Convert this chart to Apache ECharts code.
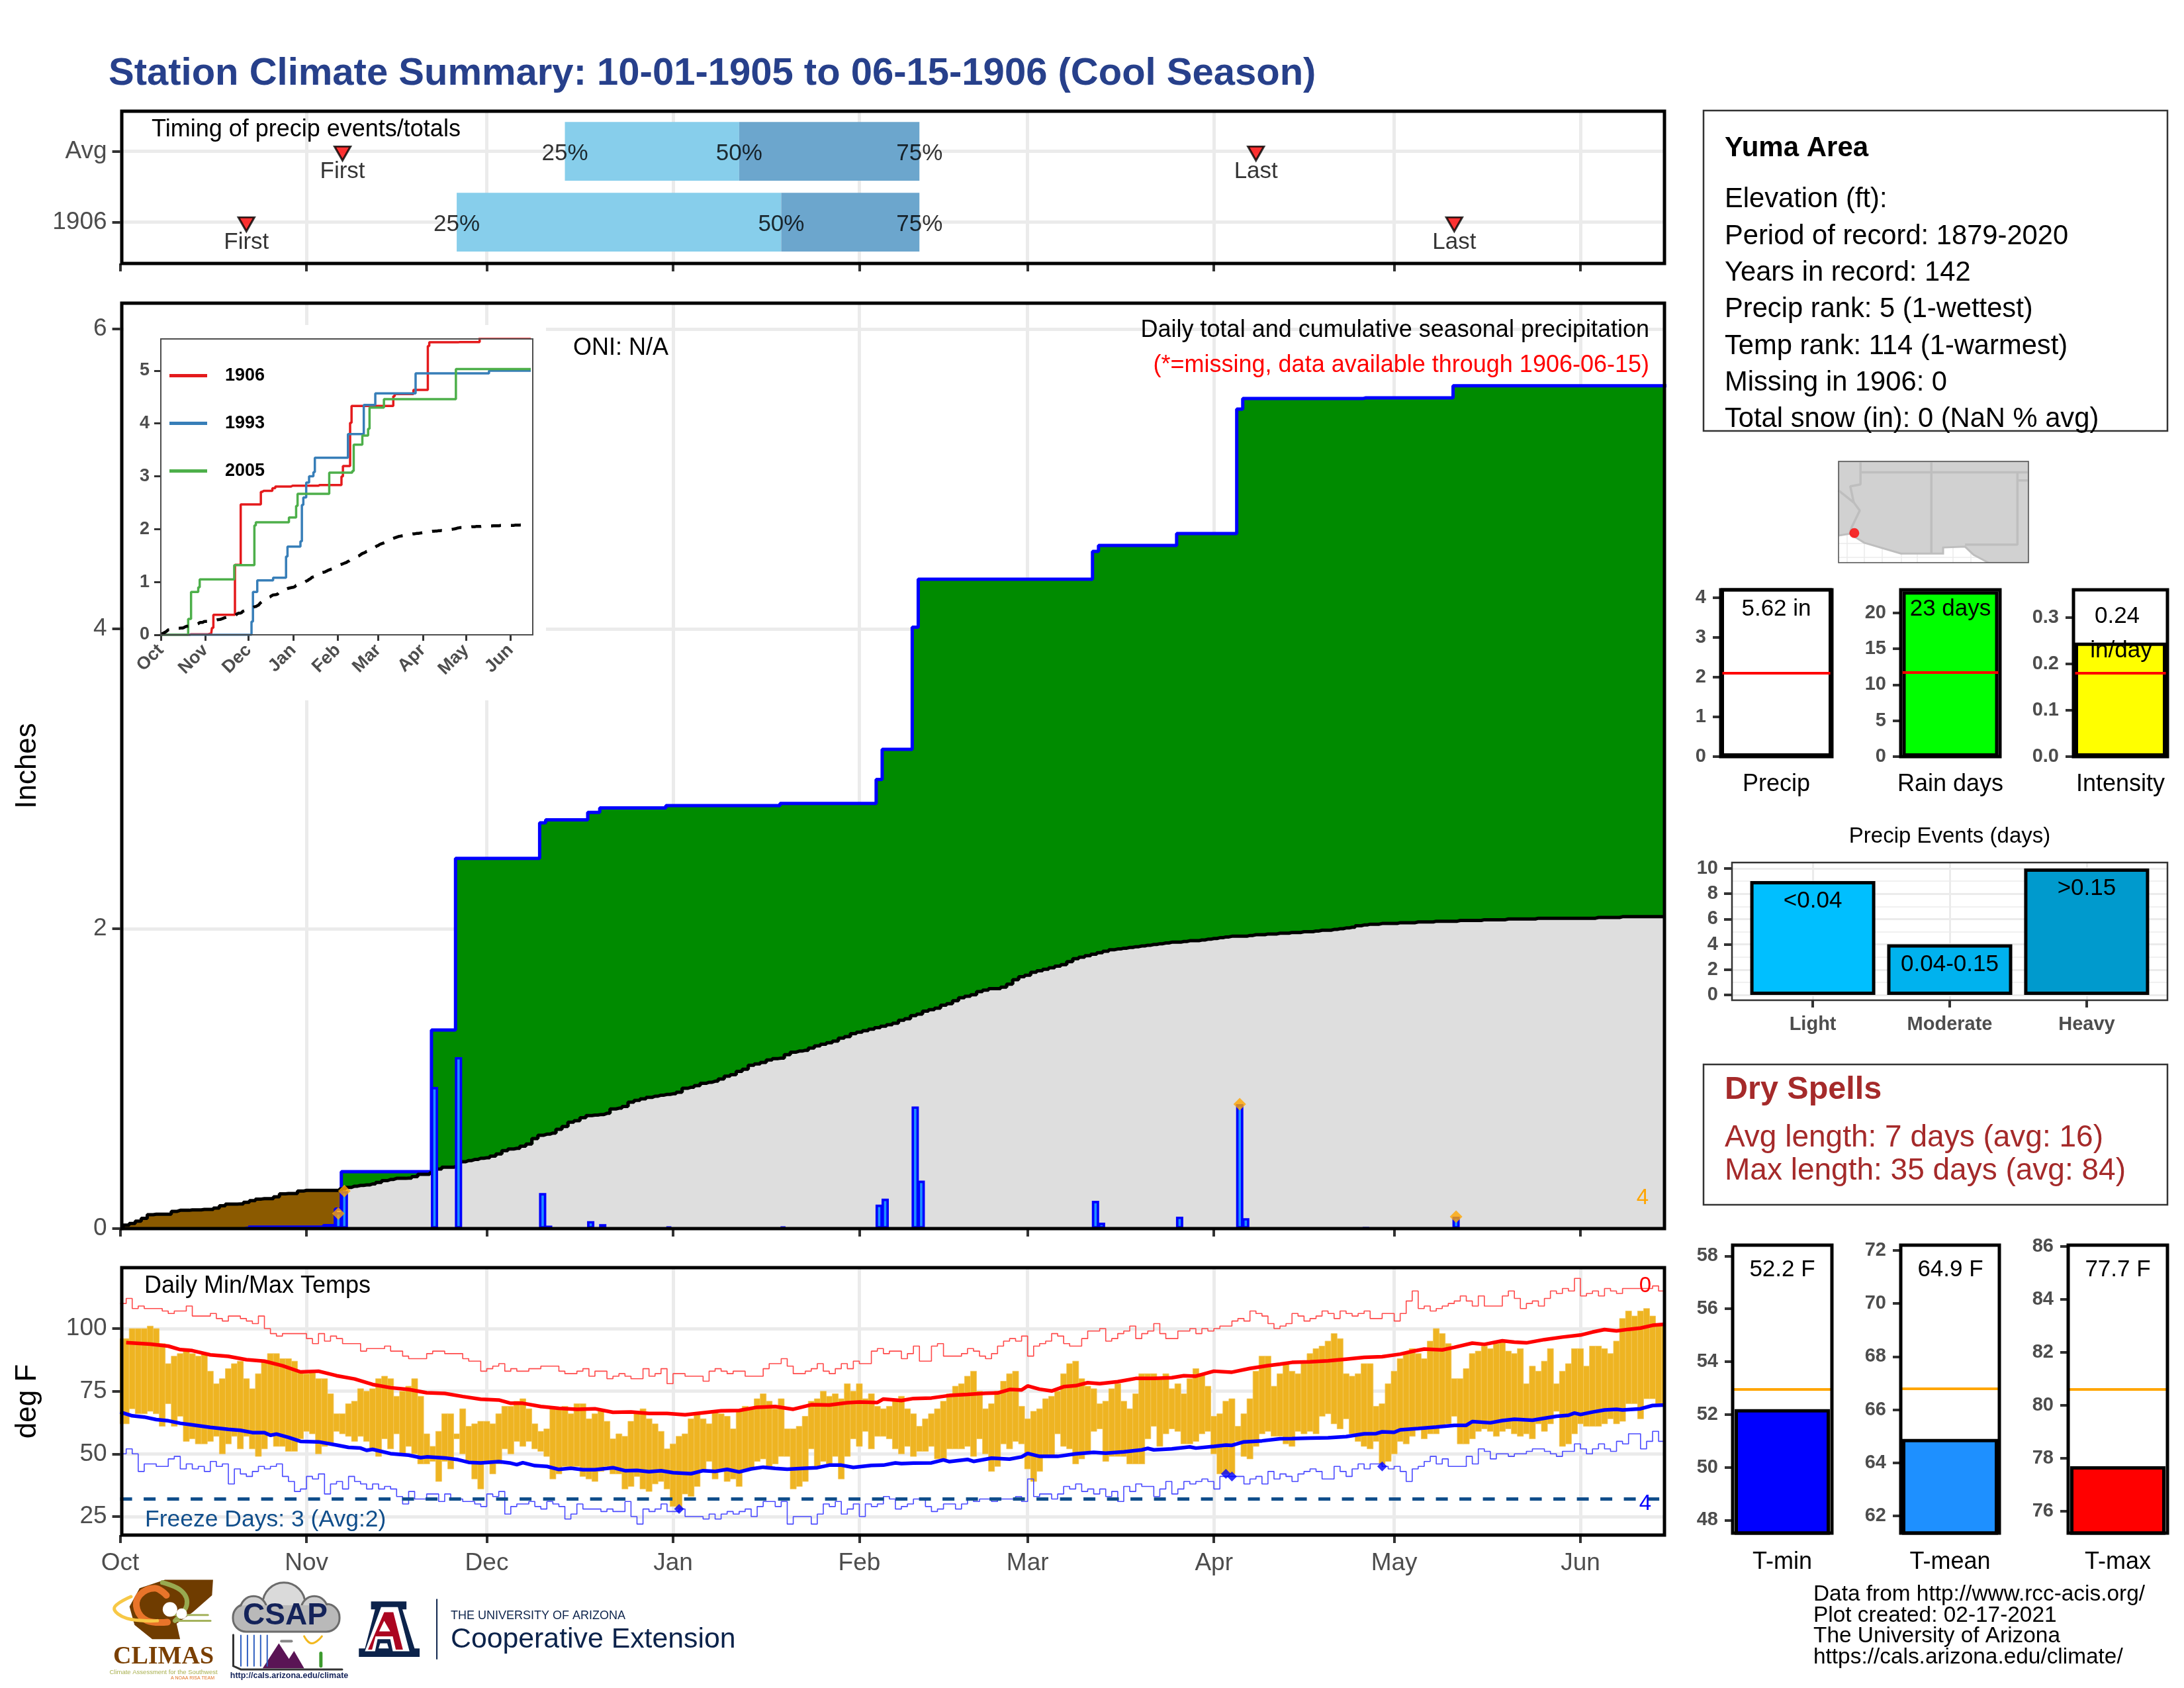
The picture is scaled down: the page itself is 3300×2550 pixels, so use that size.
<!DOCTYPE html>
<html>
<head>
<meta charset="utf-8">
<title>Station Climate Summary</title>
<script src="https://cdn.jsdelivr.net/npm/echarts@6/dist/echarts.min.js"></script>
<style>
html, body { margin: 0; padding: 0; background: #fff; }
#chart { width: 3300px; height: 2550px; }
</style>
</head>
<body>
<div id="chart"></div>
<script>
// season axis: day 0 = Oct 1, day 257 = Jun 15
var monthDays = [0, 31, 61, 92, 123, 151, 182, 212, 243];
var monthNames = ['Oct', 'Nov', 'Dec', 'Jan', 'Feb', 'Mar', 'Apr', 'May', 'Jun'];

// timing panel
var timingRows = ['Avg', '1906'];
var timingPct = [[74, 103, 133], [56, 110, 133]];
var pctLabels = ['25%', '50%', '75%'];
var firstDays = [37, 21];
var lastDays = [189, 222];

// daily precip events (inches)
var precipDays = [21, 34, 36, 37, 52, 56, 70, 71, 78, 80, 91, 110, 126, 127, 132, 133, 162, 163, 176, 186, 187, 207, 222];
var precipVals = [.01, .01, .11, .25, .945, 1.144, .237, .02, .05, .03, .015, .015, .16, .20, .815, .32, .185, .04, .08, .83, .07, .005, .08];
var wetFlagDays = [36, 37, 186, 222];
var wetFlagVals = [.10, .25, .83, .08];

// average cumulative precip by day
var avgCum = [
  0, .023, .034, .05, .068, .093, .096, .096, .096, .115,
  .122, .122, .125, .125, .128, .128, .137, .152, .163, .163,
  .165, .175, .186, .197, .20, .20, .212, .232, .234, .234,
  .25, .255, .255, .255, .255, .255, .255, .265, .275, .283,
  .288, .291, .298, .308, .32, .328, .335, .335, .337, .347,
  .362, .362, .372, .397, .409, .409, .417, .446, .454, .461,
  .469, .472, .483, .498, .52, .531, .535, .55, .564, .60,
  .623, .63, .637, .662, .681, .71, .72, .74, .754, .757,
  .761, .769, .798, .803, .814, .843, .855, .865, .875, .883,
  .89, .895, .899, .91, .936, .943, .954, .969, .976, .983,
  .998, 1.016, 1.027, 1.049, 1.063, 1.089, 1.098, 1.108, 1.125, 1.134,
  1.137, 1.16, 1.177, 1.184, 1.189, 1.204, 1.218, 1.23, 1.24, 1.25,
  1.27, 1.28, 1.30, 1.31, 1.32, 1.33, 1.34, 1.35, 1.36, 1.37,
  1.39, 1.40, 1.42, 1.43, 1.45, 1.46, 1.47, 1.49, 1.50, 1.52,
  1.54, 1.55, 1.56, 1.58, 1.59, 1.60, 1.60, 1.61, 1.63, 1.66,
  1.68, 1.69, 1.71, 1.72, 1.73, 1.74, 1.75, 1.76, 1.78, 1.80,
  1.81, 1.82, 1.83, 1.84, 1.85, 1.86, 1.865, 1.87, 1.875, 1.88,
  1.885, 1.89, 1.895, 1.90, 1.905, 1.91, 1.91, 1.915, 1.92, 1.92,
  1.925, 1.93, 1.935, 1.94, 1.945, 1.95, 1.95, 1.95, 1.955, 1.96,
  1.96, 1.965, 1.965, 1.97, 1.97, 1.975, 1.975, 1.98, 1.98, 1.985,
  1.99, 1.99, 1.995, 2.0, 2.005, 2.01, 2.02, 2.025, 2.03, 2.03,
  2.035, 2.035, 2.035, 2.04, 2.04, 2.04, 2.045, 2.045, 2.045, 2.05,
  2.05, 2.05, 2.05, 2.055, 2.055, 2.055, 2.055, 2.06, 2.06, 2.06,
  2.06, 2.065, 2.065, 2.065, 2.065, 2.065, 2.07, 2.07, 2.07, 2.07,
  2.07, 2.07, 2.07, 2.07, 2.07, 2.07, 2.075, 2.075, 2.075, 2.075,
  2.08, 2.08, 2.08, 2.08, 2.08, 2.08, 2.08, 2.08
];

// inset: other years, season totals at the days they change
var y1993Days = [0, 63, 64, 67, 78, 87, 88, 97, 98, 99, 101, 103, 106, 107, 130, 141, 149, 177, 228, 257];
var y1993Vals = [0, .25, .81, 1.03, 1.08, 1.48, 1.67, 1.77, 2.46, 2.6, 2.88, 3.0, 3.08, 3.35, 3.8, 4.35, 4.57, 4.95, 5.0, 5.0];
var y2005Days = [0, 19, 21, 26, 27, 51, 65, 66, 89, 94, 95, 117, 133, 134, 140, 144, 145, 155, 205, 257];
var y2005Vals = [0, .3, .81, .9, 1.05, 1.32, 2.07, 2.13, 2.22, 2.44, 2.67, 3.07, 3.1, 3.6, 3.77, 3.9, 4.3, 4.46, 5.03, 5.03];

// daily temps (deg F)
var tMax = [
  96, 96, 100, 100, 100, 101, 100, 94, 86, 89,
  90, 92, 90, 89, 90, 83, 78, 80, 84, 86,
  87, 80, 76, 82, 87, 90, 90, 88, 88, 87,
  83, 82, 83, 80, 80, 74, 66, 66, 70, 71,
  76, 75, 76, 80, 81, 80, 73, 75, 77, 80,
  73, 58, 53, 59, 66, 66, 58, 68, 61, 62,
  63, 63, 62, 66, 69, 69, 71, 72, 68, 62,
  59, 60, 68, 68, 69, 66, 70, 70, 64, 66,
  67, 63, 56, 58, 57, 63, 66, 68, 64, 62,
  59, 52, 54, 57, 58, 64, 66, 64, 62, 67,
  66, 65, 60, 67, 69, 68, 72, 74, 71, 68,
  72, 60, 60, 61, 65, 71, 72, 75, 73, 74,
  72, 78, 75, 78, 72, 74, 69, 68, 69, 71,
  73, 68, 66, 61, 64, 66, 68, 71, 74, 77,
  78, 81, 83, 75, 68, 70, 75, 79, 82, 83,
  69, 64, 67, 68, 72, 73, 75, 82, 86, 87,
  80, 77, 76, 70, 71, 76, 78, 71, 68, 74,
  82, 82, 82, 80, 82, 76, 78, 74, 80, 84,
  82, 77, 65, 66, 71, 72, 61, 66, 72, 83,
  89, 89, 77, 82, 86, 83, 82, 86, 90, 92,
  93, 95, 98, 96, 82, 81, 82, 86, 86, 69,
  70, 78, 83, 88, 90, 92, 90, 88, 95, 100,
  98, 94, 80, 80, 84, 90, 91, 93, 92, 94,
  95, 91, 90, 92, 78, 85, 83, 87, 92, 78,
  83, 86, 92, 92, 85, 93, 93, 92, 90, 95,
  104, 107, 105, 107, 108, 105, 102, 102
];
var tMin = [
  62, 62, 68, 66, 66, 67, 66, 61, 70, 61,
  65, 55, 56, 54, 54, 55, 57, 50, 54, 57,
  52, 57, 52, 49, 52, 58, 53, 53, 51, 51,
  56, 59, 58, 50, 53, 54, 59, 58, 57, 55,
  57, 55, 52, 49, 56, 52, 58, 50, 53, 50,
  46, 46, 47, 39, 47, 44, 56, 50, 47, 40,
  36, 46, 42, 46, 52, 50, 55, 53, 55, 52,
  51, 49, 40, 42, 45, 45, 45, 41, 40, 39,
  43, 45, 42, 42, 36, 37, 41, 36, 35, 38,
  39, 36, 29, 28, 34, 33, 37, 43, 47, 40,
  44, 39, 40, 37, 43, 44, 47, 48, 45, 46,
  49, 49, 36, 37, 39, 52, 45, 47, 46, 49,
  40, 49, 56, 53, 59, 52, 57, 57, 56, 52,
  50, 53, 49, 51, 51, 53, 48, 48, 52, 52,
  52, 53, 49, 56, 50, 43, 45, 54, 52, 55,
  54, 44, 39, 43, 49, 49, 58, 53, 52, 46,
  48, 51, 59, 60, 47, 49, 49, 49, 46, 46,
  46, 56, 61, 53, 58, 60, 59, 54, 54, 55,
  58, 59, 50, 42, 42, 42, 55, 49, 48, 53,
  58, 59, 57, 57, 54, 53, 59, 58, 59, 58,
  65, 66, 62, 60, 64, 58, 55, 53, 52, 55,
  46, 47, 50, 55, 54, 57, 60, 56, 58, 58,
  61, 62, 65, 54, 54, 56, 59, 60, 59, 57,
  59, 60, 58, 57, 58, 56, 62, 59, 62, 67,
  53, 54, 58, 62, 61, 61, 61, 62, 64, 62,
  63, 70, 70, 64, 72, 72, 70, 70
];
var recHigh = [
  110, 112, 108, 109, 108, 108, 108, 107, 106, 107,
  107, 109, 105, 105, 105, 106, 104, 103, 105, 105,
  104, 103, 102, 105, 100, 98, 97, 98, 98, 98,
  98, 96, 94, 98, 95, 97, 96, 94, 94, 94,
  91, 92, 92, 92, 93, 91, 91, 89, 88, 88,
  88, 90, 91, 91, 90, 90, 90, 88, 87, 87,
  83, 84, 85, 86, 83, 84, 83, 83, 84, 84,
  85, 85, 85, 83, 82, 82, 83, 84, 81, 83,
  83, 80, 81, 82, 81, 80, 80, 84, 81, 82,
  84, 78, 82, 82, 81, 81, 81, 79, 83, 84,
  83, 82, 83, 83, 81, 81, 81, 84, 86, 86,
  88, 85, 82, 82, 83, 84, 86, 83, 82, 84,
  86, 84, 87, 86, 86, 91, 92, 90, 91, 91,
  88, 90, 93, 87, 87, 93, 94, 89, 89, 89,
  90, 92, 91, 89, 88, 90, 93, 95, 96, 95,
  97, 89, 93, 94, 95, 98, 97, 94, 93, 93,
  96, 99, 99, 100, 95, 96, 98, 99, 101, 96,
  98, 99, 102, 98, 96, 96, 99, 99, 100, 98,
  100, 99, 100, 101, 101, 103, 104, 103, 107, 106,
  105, 102, 100, 101, 102, 106, 105, 103, 104, 105,
  107, 106, 104, 107, 106, 105, 106, 107, 104, 104,
  106, 106, 103, 106, 111, 115, 108, 109, 107, 108,
  109, 110, 111, 113, 111, 109, 113, 109, 109, 109,
  113, 115, 112, 108, 110, 111, 109, 112, 115, 114,
  116, 115, 120, 113, 114, 115, 113, 116, 115, 114,
  116, 116, 116, 116, 116, 117, 115, 115
];
var recLow = [
  50, 52, 50, 43, 46, 46, 45, 45, 48, 49,
  44, 46, 44, 45, 43, 47, 45, 46, 38, 44,
  42, 41, 43, 45, 44, 45, 46, 41, 39, 35,
  36, 41, 40, 42, 34, 38, 39, 36, 41, 39,
  38, 36, 38, 36, 37, 36, 33, 30, 35, 32,
  32, 34, 34, 31, 34, 32, 32, 31, 31, 30,
  29, 34, 33, 35, 26, 29, 30, 30, 31, 29,
  28, 31, 30, 29, 24, 26, 30, 28, 28, 28,
  27, 28, 27, 27, 31, 25, 22, 28, 27, 28,
  30, 27, 27, 28, 25, 25, 25, 24, 26, 24,
  26, 27, 26, 27, 28, 25, 29, 31, 31, 29,
  31, 22, 25, 25, 25, 22, 26, 30, 29, 31,
  26, 28, 30, 25, 30, 29, 30, 33, 32, 28,
  29, 30, 32, 32, 29, 27, 28, 30, 30, 28,
  30, 32, 31, 32, 32, 31, 32, 32, 32, 33,
  31, 40, 33, 34, 34, 32, 34, 37, 36, 38,
  35, 36, 34, 36, 33, 35, 31, 37, 35, 38,
  37, 37, 33, 36, 39, 34, 36, 39, 38, 39,
  40, 39, 36, 41, 41, 41, 41, 38, 40, 41,
  38, 43, 40, 42, 41, 39, 42, 43, 44, 43,
  40, 40, 45, 43, 41, 44, 46, 44, 46, 46,
  45, 44, 45, 43, 39, 44, 45, 47, 49, 46,
  48, 45, 45, 45, 49, 46, 52, 51, 48, 50,
  50, 49, 50, 50, 51, 52, 52, 51, 50, 49,
  51, 51, 54, 52, 50, 52, 54, 52, 51, 55,
  54, 58, 58, 52, 55, 59, 55, 55
];
var avgHighDays = [1, 5, 8, 10, 12, 15, 18, 21, 24, 27, 30, 33, 36, 39, 42, 45, 48, 51, 54, 57, 60, 63, 65, 67, 70, 73, 76, 79, 82, 85, 88, 91, 94, 97, 100, 103, 106, 109, 112, 115, 118, 121, 123, 126, 127, 130, 132, 135, 138, 141, 144, 146, 148, 150, 151, 153, 155, 157, 159, 161, 163, 166, 169, 172, 175, 177, 179, 182, 185, 188, 191, 193, 195, 198, 201, 204, 207, 210, 213, 215, 217, 220, 222, 225, 227, 230, 232, 234, 237, 240, 243, 245, 247, 249, 251, 253, 255, 257];
var avgHighVals = [94.4, 93.8, 93, 91.6, 91.2, 89.5, 88.9, 87.6, 87, 85.2, 82.7, 83, 81.2, 79.9, 77.7, 76.4, 75.7, 74.4, 74.1, 72.9, 71.8, 71.5, 70.2, 70.2, 68.9, 68.2, 67.8, 68, 66.6, 66.7, 66.1, 66.1, 65.6, 66.4, 67.2, 67.3, 68.6, 68.9, 67.8, 69.6, 69.5, 70.4, 70.7, 70.5, 71.9, 71.3, 72.1, 72.3, 73.3, 73.7, 74.2, 74.3, 75.7, 75.5, 77.1, 75.8, 75.1, 76.8, 77.2, 78.4, 78, 78.8, 80.1, 80.1, 80.4, 81.2, 81, 83, 82.6, 84.1, 85.2, 85.8, 86.5, 86.7, 87.1, 87.8, 88.5, 88.8, 89.8, 90.9, 91.8, 91.5, 92.5, 94.2, 93.7, 95.1, 94.6, 94.3, 95.6, 96.6, 97.4, 98.6, 99.6, 99.1, 99.7, 100.2, 101.3, 101.7];
var avgLowDays = [0, 2, 4, 6, 8, 10, 12, 15, 18, 20, 22, 24, 25, 26, 28, 30, 33, 36, 38, 40, 41, 42, 45, 48, 50, 51, 54, 56, 58, 60, 63, 65, 66, 67, 69, 71, 73, 75, 77, 79, 81, 82, 84, 86, 88, 90, 92, 95, 97, 99, 101, 103, 105, 107, 109, 111, 114, 116, 118, 120, 122, 125, 127, 129, 130, 132, 135, 137, 138, 141, 142, 145, 148, 150, 151, 153, 156, 159, 162, 164, 167, 170, 171, 172, 175, 178, 179, 182, 184, 185, 187, 190, 193, 195, 198, 201, 204, 207, 209, 210, 212, 213, 216, 219, 222, 224, 225, 228, 230, 232, 235, 237, 239, 241, 242, 243, 245, 247, 249, 250, 253, 255, 257];
var avgLowVals = [66.7, 65.2, 64.7, 63.7, 63.2, 62.2, 61.6, 60.6, 59.8, 59.4, 58.5, 58.5, 57.4, 57.9, 56.6, 55, 54.8, 53.5, 52.6, 52.3, 51.4, 51.8, 50.1, 49.5, 48.5, 48.8, 48.4, 47.8, 46.6, 46.4, 46.9, 46.3, 45.7, 46.5, 45.3, 45, 43.8, 44.3, 43.7, 43.7, 44.2, 44.5, 43.3, 43.4, 42.9, 43.3, 42.5, 42.1, 43.3, 43, 43.8, 42.8, 44, 44.7, 44.2, 43.9, 44.3, 44.5, 45.5, 45.5, 44.6, 45.4, 45.5, 46.4, 46.1, 46.3, 46.4, 47.6, 46.9, 47.8, 47, 48.3, 47.9, 48.8, 50.2, 49, 49, 50, 50.6, 50.3, 50.8, 51.6, 52.2, 51.6, 52, 52.8, 52.3, 53, 53.5, 53.4, 54.8, 55.2, 56, 56.1, 56.3, 56.4, 56.9, 58, 58.1, 58.8, 58.6, 59.6, 60.1, 60.7, 61.4, 61.4, 62.9, 62.4, 63.3, 63.8, 63.4, 64.2, 65, 65.4, 66.3, 65.7, 66.7, 67.5, 67.8, 67.5, 68, 69.3, 69.5];
var recLowFlagDays = [93, 184, 185, 210];
var recLowFlagVals = [28, 42, 41, 45];
var freezeLine = 32;

// right column bars
var precipTotal = 5.62, precipAvg = 2.11;
var rainDays = 23, rainDaysAvg = 11.7;
var intensity = 0.246, intensityAvg = 0.18;
var eventCats = ['Light', 'Moderate', 'Heavy'];
var eventCounts = [9, 4, 10];
var eventBins = ['<0.04', '0.04-0.15', '>0.15'];
var eventColors = ['#00BFFF', '#00B2EE', '#009ACD'];
var tempBars = [
  {name: 'T-min', val: 52.2, avg: 52.96, fill: '#0000FF'},
  {name: 'T-mean', val: 64.9, avg: 66.8, fill: '#1E90FF'},
  {name: 'T-max', val: 77.7, avg: 80.6, fill: '#FF0000'}
];

// locator map, lon/lat
var mapLandLon = [-115.5, -114.72, -113.71, -111.15, -109.03, -108.21, -108.21, -106.68, -106.09, -105.03, -102.25, -102.25, -115.5];
var mapLandLat = [32.55, 32.67, 32.04, 31.27, 31.27, 31.27, 31.7, 31.76, 31.19, 30.62, 30.62, 37.78, 37.78];
var mapBorders = [
  [[-115.5, 35.73], [-114.44, 34.88], [-114.02, 34.31], [-114.56, 33.18], [-114.72, 32.67]],
  [[-113.97, 37.78], [-113.97, 36.16], [-114.68, 36.02], [-114.44, 34.88]],
  [[-113.97, 37.01], [-102.25, 37.01]],
  [[-109.03, 37.78], [-109.03, 31.27]],
  [[-103.03, 37.01], [-103.03, 31.9], [-106.68, 31.9]],
  [[-103.03, 36.44], [-102.25, 36.44]]
];
var stationLon = -114.4, stationLat = 32.72;

// running season total from the daily events
// the original's rain marks sit a little right of the day tick
var rainShift = 0.3;
var dailyPrecip = [], cumPrecip = [], total = 0;
avgCum.forEach(function (v, d) {
  var k = precipDays.indexOf(d);
  if (k >= 0) total += precipVals[k];
  cumPrecip.push([d, +total.toFixed(3)]);
});
precipDays.forEach(function (d, k) { dailyPrecip.push([d + rainShift, precipVals[k]]); });
var avgPairs = avgCum.map(function (v, d) { return [d, v]; });
var lowerPairs = avgCum.map(function (v, d) { return [d + rainShift, Math.min(v, cumPrecip[d][1])]; });
var cumShifted = cumPrecip.map(function (p) { return [p[0] + rainShift, p[1]]; });
function pairs(xs, ys) { return xs.map(function (x, i) { return [x, ys[i]]; }); }

var FONT = '"Liberation Sans", Helvetica, Arial, sans-serif';
var GREY = '#4D4D4D', GRIDCOL = '#EBEBEB';

var grids = [], xAxes = [], yAxes = [], series = [], elements = [];

function addGrid(x0, y0, x1, y1) {
  grids.push({left: x0, top: y0, width: x1 - x0, height: y1 - y0, containLabel: false});
  return grids.length - 1;
}
function tickAxis(i, extra, labelOpt, tickOpt) {
  var ax = {
    gridIndex: i, type: 'value', scale: true, z: 3,
    splitLine: {show: false}, axisLine: {show: false, onZero: false},
    axisTick: Object.assign({show: true, length: 12, lineStyle: {color: '#333', width: 4}}, tickOpt || {}),
    axisLabel: Object.assign({show: true, color: GREY, fontFamily: FONT, fontSize: 37, margin: 20}, labelOpt || {})
  };
  return Object.assign(ax, extra);
}
function gridLines(i, xs, ys, width, color, z) {
  series.push({
    type: 'line', xAxisIndex: i, yAxisIndex: i, data: [], silent: true,
    markLine: {
      silent: true, symbol: 'none', z: z || 1, animation: false, label: {show: false},
      lineStyle: {color: color || GRIDCOL, width: width, type: 'solid'},
      data: xs.map(function (v) { return {xAxis: v}; }).concat(ys.map(function (v) { return {yAxis: v}; }))
    }
  });
}
function frame(x0, y0, x1, y1, color, width, z) {
  elements.push({type: 'rect', z: z || 50, silent: true, shape: {x: x0, y: y0, width: x1 - x0, height: y1 - y0},
    style: {fill: 'none', stroke: color, lineWidth: width}});
}
function txt(text, x, y, size, opt) {
  opt = opt || {};
  elements.push({type: 'text', z: opt.z || 60, silent: true, style: {
    text: text, x: x, y: y + 3, fill: opt.fill || '#000', fontFamily: opt.family || FONT, fontSize: size,
    fontWeight: opt.weight || 'normal', textAlign: opt.align || 'left', textVerticalAlign: 'middle'
  }});
}
function sideName(text, x, y, size) {
  elements.push({type: 'text', z: 60, silent: true, x: x, y: y, rotation: Math.PI / 2, style: {
    text: text, x: 0, y: 0, fill: '#000', fontFamily: FONT, fontSize: size, textAlign: 'center', textVerticalAlign: 'middle'
  }});
}
function monthTicks(i, showLabels) {
  return tickAxis(i, {min: 0, max: 256.98}, {
    show: showLabels, customValues: monthDays, margin: 24,
    formatter: function (v) { return monthNames[monthDays.indexOf(v)]; }
  }, {customValues: monthDays});
}
// left axis text sits a touch above its tick otherwise
var LEFT_PAD = [7, 0, 0, 0];

// ---- timing panel ----
var g0 = addGrid(181.6, 168, 2515, 398);
xAxes.push(monthTicks(g0, false));
yAxes.push(tickAxis(g0, {min: -0.566, max: 1.583, inverse: true}, {
  customValues: [0, 1], padding: LEFT_PAD, formatter: function (v) { return timingRows[v]; }
}, {customValues: [0, 1]}));
gridLines(g0, monthDays.slice(1), [0, 1], 5);
var timingRects = [];
timingPct.forEach(function (p, row) {
  timingRects.push([p[0], p[1], row, '#87CEEB']);
  timingRects.push([p[1], p[2], row, '#6CA6CD']);
});
series.push({
  type: 'custom', xAxisIndex: g0, yAxisIndex: g0, clip: true, silent: true, data: timingRects,
  renderItem: function (params, api) {
    var row = api.value(2);
    var a = api.coord([api.value(0), row - 0.415]);
    var b = api.coord([api.value(1), row + 0.415]);
    return {type: 'rect', shape: {x: a[0], y: a[1], width: b[0] - a[0], height: b[1] - a[1]},
      style: {fill: timingRects[params.dataIndex][3]}};
  }
});
var pctPoints = [];
timingPct.forEach(function (p, row) {
  p.forEach(function (d, k) { pctPoints.push({value: [d, row], label: {formatter: pctLabels[k]}}); });
});
series.push({
  type: 'scatter', xAxisIndex: g0, yAxisIndex: g0, symbolSize: 1, itemStyle: {color: 'transparent'}, silent: true, z: 4,
  label: {show: true, position: 'inside', offset: [0, 4], color: '#000', fontFamily: FONT, fontSize: 35},
  data: pctPoints
});
function timingMarks(days, text) {
  series.push({
    type: 'scatter', xAxisIndex: g0, yAxisIndex: g0, symbol: 'triangle', symbolRotate: 180, symbolSize: [24, 21], z: 5, silent: true,
    itemStyle: {color: '#FF0000', borderColor: '#000', borderWidth: 3},
    label: {show: true, position: 'bottom', distance: -2, formatter: text, color: '#000', fontFamily: FONT, fontSize: 35},
    data: days.map(function (d, row) { return [d, row + 0.03]; })
  });
}
timingMarks(firstDays, 'First');
timingMarks(lastDays, 'Last');
frame(184, 168, 2515, 398, '#000', 5);
txt('Timing of precip events/totals', 229, 193, 36);

// ---- main precip panel ----
var g1 = addGrid(181.6, 458, 2515, 1856);
xAxes.push(monthTicks(g1, false));
yAxes.push(tickAxis(g1, {min: 0, max: 6.172}, {customValues: [0, 2, 4, 6], padding: LEFT_PAD}, {customValues: [0, 2, 4, 6]}));
sideName('Inches', 42, 1157, 44);
gridLines(g1, monthDays.slice(1), [2, 4, 6], 5);
function stepArea(name, data, color) {
  series.push({name: name, type: 'line', xAxisIndex: g1, yAxisIndex: g1, step: 'middle', showSymbol: false, silent: true, z: 2,
    lineStyle: {width: 0}, areaStyle: {color: color, opacity: 1}, data: data});
}
stepArea('avg below', avgPairs, '#8B5A00');
stepArea('season above', cumShifted, '#008B00');
stepArea('shared', lowerPairs, '#DEDEDE');
series.push({name: 'season line', type: 'line', xAxisIndex: g1, yAxisIndex: g1, step: 'middle', showSymbol: false, silent: true, z: 3,
  lineStyle: {color: '#0000FF', width: 5}, data: cumShifted.filter(function (p) { return p[1] > 0; })});
series.push({name: 'avg line', type: 'line', xAxisIndex: g1, yAxisIndex: g1, step: 'middle', showSymbol: false, silent: true, z: 3,
  lineStyle: {color: '#000', width: 5}, data: avgPairs});
series.push({name: 'daily', type: 'bar', xAxisIndex: g1, yAxisIndex: g1, barWidth: 11, silent: true, z: 4,
  itemStyle: {color: '#1E90FF', borderColor: '#0000FF', borderWidth: 3.7}, data: dailyPrecip});
series.push({name: 'wet flags', type: 'scatter', xAxisIndex: g1, yAxisIndex: g1, symbol: 'diamond', symbolSize: 19, silent: true, z: 5,
  itemStyle: {color: '#FFA500'}, data: pairs(wetFlagDays.map(function (d) { return d + rainShift; }), wetFlagVals)});
frame(184, 458, 2515, 1856, '#000', 5);
txt('Daily total and cumulative seasonal precipitation', 2492, 496, 36, {align: 'right'});
txt('(*=missing, data available through 1906-06-15)', 2492, 549, 36, {align: 'right', fill: '#FF0000'});
txt('ONI: N/A', 866, 523, 36);
txt('4', 2482, 1807, 33, {fill: '#FFA500', align: 'center'});

// ---- inset: white backing, then the small cumulative chart ----
elements.push({type: 'rect', z: 1.5, silent: true, shape: {x: 187, y: 491, width: 638, height: 567}, style: {fill: '#fff'}});
var g3 = addGrid(243, 512, 805, 959);

// ---- temperature panel (grid added after main so indexes stay in order) ----
var g2 = addGrid(181.6, 1915, 2515, 2319);

xAxes.push(tickAxis(g3, {min: 0, max: 258.4}, {
  customValues: monthDays, rotate: 45, fontWeight: 'bold', fontSize: 27, margin: 19,
  formatter: function (v) { return monthNames[monthDays.indexOf(v)]; }
}, {customValues: monthDays, length: 9, lineStyle: {color: '#333', width: 3}}));
yAxes.push(tickAxis(g3, {min: 0, max: 5.6}, {customValues: [0, 1, 2, 3, 4, 5], fontWeight: 'bold', fontSize: 27, margin: 17, padding: [4, 0, 0, 0]},
  {customValues: [0, 1, 2, 3, 4, 5], length: 10, lineStyle: {color: '#333', width: 3}}));
function insetLine(name, data, color, step, dash) {
  series.push({name: name, type: 'line', xAxisIndex: g3, yAxisIndex: g3, step: step, showSymbol: false, silent: true, z: 6,
    lineStyle: {color: color, width: dash ? 4.5 : 3.5, type: dash ? [15, 15] : 'solid'}, itemStyle: {color: color}, data: data});
}
insetLine('1906', cumPrecip, '#E41A1C', 'middle');
insetLine('1993', pairs(y1993Days, y1993Vals), '#377EB8', 'end');
insetLine('2005', pairs(y2005Days, y2005Vals), '#4DAF4A', 'end');
insetLine('normal', avgPairs.slice(0, 252), '#000', false, true);
frame(243, 512, 805, 959, '#4D4D4D', 2, 7);

xAxes.push(monthTicks(g2, true));
yAxes.push(tickAxis(g2, {min: 17.6, max: 124.3}, {customValues: [25, 50, 75, 100], padding: LEFT_PAD}, {customValues: [25, 50, 75, 100]}));
sideName('deg F', 42, 2117, 44);
gridLines(g2, monthDays.slice(1), [25, 50, 75, 100], 5);
series.push({
  type: 'custom', xAxisIndex: g2, yAxisIndex: g2, clip: true, silent: true, z: 2,
  data: tMax.map(function (v, d) { return [d, tMin[d], v]; }),
  renderItem: function (params, api) {
    var d = api.value(0);
    var a = api.coord([d - 0.5, api.value(2)]);
    var b = api.coord([d + 0.5, api.value(1)]);
    return {type: 'rect', shape: {x: a[0], y: a[1], width: b[0] - a[0], height: b[1] - a[1]},
      style: {fill: '#EEB422', stroke: '#F3C65A', lineWidth: 0.8}};
  }
});
function tempLine(data, color, width, step) {
  series.push({type: 'line', xAxisIndex: g2, yAxisIndex: g2, step: step, showSymbol: false, silent: true, z: 3,
    lineStyle: {color: color, width: width}, data: data});
}
tempLine(recHigh.map(function (v, d) { return [d, v]; }), '#FF4A4A', 1.6, 'end');
tempLine(recLow.map(function (v, d) { return [d, v]; }), '#4A4AFF', 1.6, 'end');
tempLine(pairs(avgHighDays, avgHighVals), '#FF0000', 5.5, false);
tempLine(pairs(avgLowDays, avgLowVals), '#0000FF', 5.5, false);
series.push({type: 'scatter', xAxisIndex: g2, yAxisIndex: g2, symbol: 'diamond', symbolSize: 15, silent: true, z: 5,
  itemStyle: {color: '#0000FF'}, data: pairs(recLowFlagDays, recLowFlagVals)});
series.push({type: 'line', xAxisIndex: g2, yAxisIndex: g2, data: [], silent: true,
  markLine: {silent: true, symbol: 'none', z: 4, animation: false, label: {show: false},
    lineStyle: {color: '#104E8B', width: 5, type: [18, 17.5]}, data: [{yAxis: freezeLine}]}});
frame(184, 1915, 2515, 2319, '#000', 5);
txt('Daily Min/Max Temps', 218, 1940, 36);
txt('Freeze Days: 3 (Avg:2)', 219, 2293, 35.5, {fill: '#104E8B'});
txt('0', 2486, 1940, 33, {fill: '#FF0000', align: 'center'});
txt('4', 2486, 2269, 33, {fill: '#0000FF', align: 'center'});

// ---- info box ----
frame(2574, 167, 3275, 651, '#333', 2.5);
txt('Yuma Area', 2606, 221, 42, {weight: 'bold'});
['Elevation (ft):', 'Period of record: 1879-2020', 'Years in record: 142', 'Precip rank: 5 (1-wettest)',
  'Temp rank: 114 (1-warmest)', 'Missing in 1906: 0', 'Total snow (in): 0 (NaN % avg)'].forEach(function (s, i) {
  txt(s, 2606, 299 + i * 55.3, 41.7);
});

// ---- locator map ----
var gm = addGrid(2778, 697, 3065, 850);
xAxes.push({gridIndex: gm, type: 'value', show: false, min: -115.5, max: -102.26});
yAxes.push({gridIndex: gm, type: 'value', show: false, min: 30.63, max: 37.78});
gridLines(gm, [-114.9, -113.7, -112.45, -111.15, -110, -107.55, -106.3], [32.0, 31.0], 1.5);
series.push({
  type: 'custom', xAxisIndex: gm, yAxisIndex: gm, clip: true, silent: true, z: 2, data: [[mapLandLon[0], mapLandLat[0]]],
  renderItem: function (params, api) {
    return {type: 'polygon', shape: {points: mapLandLon.map(function (lon, i) { return api.coord([lon, mapLandLat[i]]); })},
      style: {fill: '#D1D1D1', stroke: '#BEBEBE', lineWidth: 3}};
  }
});
mapBorders.forEach(function (b) {
  series.push({type: 'line', xAxisIndex: gm, yAxisIndex: gm, showSymbol: false, silent: true, z: 3,
    lineStyle: {color: '#BEBEBE', width: 3.5}, data: b});
});
series.push({type: 'scatter', xAxisIndex: gm, yAxisIndex: gm, symbolSize: 15, silent: true, z: 4,
  itemStyle: {color: '#FF0000'}, data: [[stationLon, stationLat]]});
frame(2778, 697, 3065, 850, '#4D4D4D', 1.5);

// ---- small summary bars ----
function smallBar(x0, x1, y0, y1, name, val, avg, avgColor, fill, ymin, ymax, ticks, barW, labelY) {
  var g = addGrid(x0, y0, x1, y1);
  xAxes.push({gridIndex: g, type: 'category', data: [name], axisLine: {show: false, onZero: false}, axisTick: {show: false}, z: 3,
    axisLabel: {color: '#000', fontFamily: FONT, fontSize: 36, margin: labelY}});
  yAxes.push(tickAxis(g, {min: ymin, max: ymax}, {customValues: ticks, fontWeight: 'bold', fontSize: 29, margin: 22, padding: [5, 0, 0, 0],
    formatter: function (v) { return ymax < 1 ? v.toFixed(1) : String(v); }}, {customValues: ticks, length: 12}));
  series.push({type: 'bar', xAxisIndex: g, yAxisIndex: g, barWidth: barW, silent: true, z: 2, data: [val],
    itemStyle: {color: fill, borderColor: '#000', borderWidth: 5},
    markLine: {silent: true, symbol: 'none', z: 6, animation: false, label: {show: false},
      lineStyle: {color: avgColor, width: 4, type: 'solid'}, data: [{yAxis: avg}]}});
  frame(x0, y0, x1, y1, '#000', 5);
}
smallBar(2600, 2768, 891, 1143, 'Precip', precipTotal, precipAvg, '#FF0000', '#fff', 0, 4.2, [0, 1, 2, 3, 4], 168, 24);
smallBar(2872, 3022, 891, 1143, 'Rain days', rainDays, rainDaysAvg, '#FF0000', '#00FF00', 0, 23.2, [0, 5, 10, 15, 20], 145, 24);
smallBar(3133, 3275, 891, 1143, 'Intensity', intensity, intensityAvg, '#FF0000', '#FFFF00', 0, 0.36, [0, .1, .2, .3], 138, 24);
txt(precipTotal.toFixed(2) + ' in', 2684, 917, 35, {align: 'center', z: 70});
txt(rainDays + ' days', 2947, 917, 35, {align: 'center', z: 70});
txt('0.24', 3199, 928, 35, {align: 'center', z: 70});
txt('in/day', 3205, 980, 35, {align: 'center', z: 70});

// ---- precip events ----
var ge = addGrid(2617, 1303, 3275, 1511);
xAxes.push(tickAxis(ge, {min: -0.59, max: 2.59}, {
  customValues: [0, 1, 2], fontWeight: 'bold', fontSize: 29, margin: 22,
  formatter: function (v) { return eventCats[v]; }
}, {customValues: [0, 1, 2], length: 11}));
yAxes.push(tickAxis(ge, {min: -0.42, max: 10.47}, {customValues: [0, 2, 4, 6, 8, 10], fontWeight: 'bold', fontSize: 29, margin: 21, padding: [5, 0, 0, 0]},
  {customValues: [0, 2, 4, 6, 8, 10], length: 12}));
gridLines(ge, [], [1, 3, 5, 7, 9], 1.5);
gridLines(ge, [0, 1, 2], [0, 2, 4, 6, 8, 10], 3);
series.push({type: 'bar', xAxisIndex: ge, yAxisIndex: ge, barWidth: 189, silent: true, z: 2,
  label: {show: true, position: 'insideTop', distance: 13, color: '#000', fontFamily: FONT, fontSize: 35},
  data: eventCounts.map(function (v, i) {
    return {value: [i, v], itemStyle: {color: eventColors[i], borderColor: '#000', borderWidth: 5}, label: {formatter: eventBins[i]}};
  })});
frame(2617, 1303, 3275, 1511, '#333', 2.5);
txt('Precip Events (days)', 2946, 1261, 33, {align: 'center'});

// ---- dry spells ----
frame(2574, 1608, 3275, 1820, '#333', 2.5);
txt('Dry Spells', 2606, 1644, 48.5, {weight: 'bold', fill: '#A52A2A'});
txt('Avg length: 7 days (avg: 16)', 2606, 1716, 46, {fill: '#A52A2A'});
txt('Max length: 35 days (avg: 84)', 2606, 1766, 46, {fill: '#A52A2A'});

// ---- temp summary bars ----
smallBar(2618, 2768, 1881, 2316, tempBars[0].name, tempBars[0].val, tempBars[0].avg, '#FFA500', tempBars[0].fill, 47.51, 58.41, [48, 50, 52, 54, 56, 58], 144, 26);
smallBar(2872, 3021, 1881, 2316, tempBars[1].name, tempBars[1].val, tempBars[1].avg, '#FFA500', tempBars[1].fill, 61.35, 72.2, [62, 64, 66, 68, 70, 72], 145, 26);
smallBar(3125, 3275, 1881, 2316, tempBars[2].name, tempBars[2].val, tempBars[2].avg, '#FFA500', tempBars[2].fill, 75.18, 86.04, [76, 78, 80, 82, 84, 86], 144, 26);
txt('52.2 F', 2693, 1915, 35, {align: 'center', z: 70});
txt('64.9 F', 2947, 1915, 35, {align: 'center', z: 70});
txt('77.7 F', 3200, 1915, 35, {align: 'center', z: 70});

// credits
['Data from http://www.rcc-acis.org/', 'Plot created: 02-17-2021', 'The University of Arizona', 'https://cals.arizona.edu/climate/'].forEach(function (s, i) {
  txt(s, 2740, 2406 + i * 31.6, 33.4);
});

txt('Station Climate Summary: 10-01-1905 to 06-15-1906 (Cool Season)', 164, 109, 58, {weight: 'bold', fill: '#27408B'});

// ---- logos, drawn roughly ----
function lz(p) { return [100 + p[0] / 1.307, 1880 + p[1] / 2.34]; }
function poly(points, fill, stroke, lw) {
  elements.push({type: 'polygon', z: 20, silent: true, shape: {points: points.map(lz)}, style: {fill: fill, stroke: stroke || 'none', lineWidth: lw || 0}});
}
function pline(points, color, lw, smooth) {
  elements.push({type: 'polyline', z: 21, silent: true, shape: {points: points.map(lz), smooth: smooth || 0}, style: {fill: 'none', stroke: color, lineWidth: lw, lineCap: 'round'}});
}
function dot(p, r, fill, stroke, lw) {
  var c = lz(p);
  elements.push({type: 'circle', z: 22, silent: true, shape: {cx: c[0], cy: c[1], r: r}, style: {fill: fill, stroke: stroke || 'none', lineWidth: lw || 0}});
}
// CLIMAS
poly([[195, 1185], [290, 1185], [288, 1240], [250, 1300], [218, 1340], [225, 1395], [170, 1395], [135, 1345], [125, 1280], [145, 1215]], '#6F3C00');
pline([[190, 1195], [228, 1225], [238, 1275], [215, 1330]], '#98A950', 7, 0.4);
pline([[198, 1240], [175, 1215], [145, 1240], [140, 1290], [160, 1330], [200, 1335]], '#E8742A', 10, 0.4);
pline([[128, 1245], [95, 1285], [120, 1322], [180, 1330]], '#F7C846', 5, 0.4);
dot([205, 1290], 11, '#fff');
dot([228, 1305], 8, '#fff');
pline([[200, 1310], [280, 1310]], '#A4B25C', 3);
pline([[215, 1330], [285, 1330]], '#A4B25C', 3);
txt('CLIMAS', 247, 2500, 38, {family: '"Liberation Serif", serif', weight: 'bold', fill: '#7A3F00', align: 'center'});
txt('Climate Assessment for the Southwest', 247, 2523, 9.5, {fill: '#A9B04F', align: 'center'});
txt('A NOAA RISA TEAM', 324, 2532, 7, {fill: '#E07020', align: 'right'});
// CSAP
elements.push({type: 'rect', z: 20, silent: true, shape: {x: 352, y: 2423, width: 161, height: 42, r: 20},
  style: {fill: '#B4B4B4', stroke: '#6B6B6B', lineWidth: 3}});
dot([430, 1270], 32, '#DADADA', '#6B6B6B', 3);
dot([370, 1290], 20, '#CFCFCF', '#6B6B6B', 3);
dot([490, 1290], 20, '#CFCFCF', '#6B6B6B', 3);
elements.push({type: 'rect', z: 23, silent: true, shape: {x: 354, y: 2425, width: 157, height: 38, r: 18}, style: {fill: '#B9B9B9'}});
txt('CSAP', 431, 2438, 46, {weight: 'bold', fill: '#14235A', align: 'center', z: 24});
[345, 358, 371, 384, 397].forEach(function (x) { pline([[x, 1382], [x, 1490]], '#2F5FC0', 2); });
pline([[330, 1380], [330, 1490], [345, 1502], [545, 1502]], '#333', 3);
poly([[388, 1498], [420, 1410], [440, 1465], [450, 1437], [470, 1498]], '#5A1455');
pline([[425, 1402], [445, 1402]], '#888', 4);
pline([[470, 1385], [485, 1410], [505, 1385]], '#F2B81E', 3, 0.5);
pline([[503, 1445], [503, 1490]], '#3C9A2D', 5);
txt('http://cals.arizona.edu/climate', 437, 2529, 12.5, {weight: 'bold', fill: '#14235A', align: 'center'});
// UA block A
poly([[602, 1262], [672, 1262], [672, 1290], [664, 1290], [688, 1428], [698, 1428], [698, 1458], [625, 1458], [625, 1428], [637, 1428], [634, 1410], [620, 1410], [617, 1428], [630, 1428], [630, 1458], [578, 1458], [578, 1428], [590, 1428], [610, 1290], [602, 1290]], '#0C234B');
poly([[622, 1282], [655, 1282], [678, 1438], [645, 1438], [640, 1395], [615, 1395], [610, 1438], [590, 1438]], '#fff');
poly([[630, 1300], [646, 1300], [665, 1432], [651, 1432], [645, 1385], [611, 1385], [604, 1432], [596, 1432], [628, 1300]], '#AB0520');
poly([[628, 1330], [640, 1368], [618, 1368]], '#fff');
pline([[732, 1255], [732, 1465]], '#0C234B', 2);
txt('THE UNIVERSITY OF ARIZONA', 681, 2438, 18, {fill: '#0C234B'});
txt('Cooperative Extension', 681, 2474, 42.8, {fill: '#0C234B'});

var chart = echarts.init(document.getElementById('chart'), null, {width: 3300, height: 2550, renderer: 'canvas'});
chart.setOption({
  animation: false,
  backgroundColor: '#fff',
  textStyle: {fontFamily: FONT},
  legend: {
    data: [{name: '1906', icon: 'rect'}, {name: '1993', icon: 'rect'}, {name: '2005', icon: 'rect'}],
    orient: 'vertical', left: 251, top: 549, itemWidth: 57, itemHeight: 5, itemGap: 45, selectedMode: false, z: 8,
    textStyle: {color: '#000', fontWeight: 'bold', fontSize: 27, fontFamily: FONT, padding: [0, 0, 0, 22]}
  },
  grid: grids,
  xAxis: xAxes,
  yAxis: yAxes,
  series: series,
  graphic: {elements: elements}
});
</script>
</body>
</html>
